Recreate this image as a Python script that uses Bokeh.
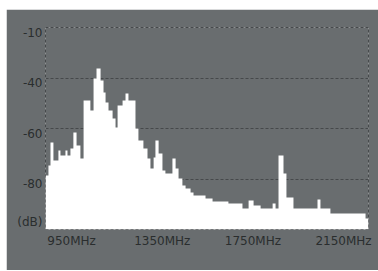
from bokeh.plotting import figure
from bokeh.layouts import column, row
from bokeh.models import ColumnDataSource, FixedTicker, Range1d, Spacer
from bokeh.embed import file_html
from bokeh.resources import INLINE

# Spectrum: step start frequencies (MHz) and level (dB) held until next step
freq_edges = [835, 848, 857, 870, 892, 901, 923, 932, 945, 958, 972, 989, 1003,
              1033, 1047, 1060, 1078, 1091, 1100, 1113, 1131, 1144, 1153, 1175,
              1188, 1201, 1232, 1245, 1267, 1285, 1298, 1312, 1320, 1334, 1351,
              1364, 1395, 1409, 1422, 1439, 1453, 1475, 1488, 1541, 1572, 1642,
              1704, 1731, 1753, 1784, 1837, 1850, 1863, 1885, 1898, 1929, 2035,
              2048, 2092, 2247]
level_db = [-78.6, -74.7, -65.5, -72.7, -68.7, -70.7, -68.7, -70.7, -67.9, -61.6,
            -66.7, -71.9, -48.9, -52.9, -40.2, -36.2, -41.0, -45.7, -49.7, -52.9,
            -56.0, -59.6, -50.9, -48.9, -46.1, -48.9, -60.0, -64.8, -67.9, -71.9,
            -75.8, -71.5, -64.8, -69.9, -76.6, -77.8, -71.9, -75.8, -79.8, -82.6,
            -83.8, -85.3, -86.5, -87.7, -88.9, -89.7, -91.7, -88.5, -90.5, -91.7,
            -89.7, -91.7, -70.7, -77.8, -87.3, -91.7, -88.1, -91.7, -93.7, -95.6]
freq_end = 2260
db_floor = -100
db_top = -20

x_ticks = [950, 1350, 1750, 2150]
x_tick_labels = ["950MHz", "1350MHz", "1750MHz", "2150MHz"]
# label anchor positions (slightly below their grid lines, as in the source)
y_ticks = [-22, -42, -62, -82, -97]
y_tick_labels = ["-10", "-40", "-60", "-80", "(dB)"]
grid_levels = [-20, -40, -60, -80]

BG = "#696d6f"
GRID = "#46494b"
TEXT = "#2a2d2e"
FONT = "DejaVu Sans"

xs = freq_edges + [freq_end]
ys = level_db + [level_db[-1]]
src = ColumnDataSource(dict(x=xs, y1=ys, y2=[db_floor] * len(xs)))

p = figure(width=372, height=261, output_backend="svg", toolbar_location=None,
           x_range=Range1d(freq_edges[0], freq_end), y_range=Range1d(db_floor, db_top),
           min_border_left=39, min_border_right=10, min_border_top=18, min_border_bottom=41)
p.background_fill_color = BG
p.border_fill_color = BG
p.outline_line_color = GRID
p.outline_line_dash = "3 2"
p.outline_line_width = 1

p.varea_step(x="x", y1="y1", y2="y2", step_mode="after", source=src,
             fill_color="white")

p.xgrid.visible = False
p.ygrid.ticker = FixedTicker(ticks=grid_levels)
p.ygrid.grid_line_color = GRID
p.ygrid.grid_line_dash = "3 2"
p.ygrid.grid_line_width = 1

p.xaxis.ticker = FixedTicker(ticks=x_ticks)
p.xaxis.major_label_overrides = dict(zip(x_ticks, x_tick_labels))
p.yaxis.ticker = FixedTicker(ticks=y_ticks)
p.yaxis.major_label_overrides = dict(zip(y_ticks, y_tick_labels))

for ax in (p.xaxis[0], p.yaxis[0]):
    ax.axis_line_color = None
    ax.major_tick_line_color = None
    ax.minor_tick_line_color = None
    ax.major_tick_out = 0
    ax.major_tick_in = 0
    ax.minor_tick_out = 0
    ax.minor_tick_in = 0
    ax.major_label_text_font = FONT
    ax.major_label_text_font_size = "12px"
    ax.major_label_text_color = TEXT
p.xaxis.major_label_standoff = 4
p.yaxis.major_label_standoff = 3

layout = column(Spacer(height=9, width=378),
                row(Spacer(width=6, height=261), p, spacing=0), spacing=0)

open("out.html", "w").write(file_html(layout, INLINE))
